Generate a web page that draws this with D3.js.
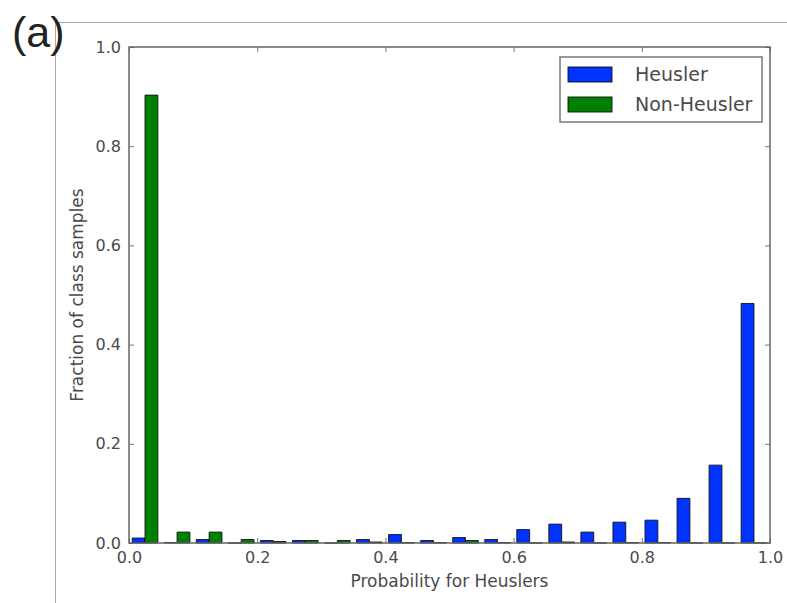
<!DOCTYPE html>
<html>
<head>
<meta charset="utf-8">
<title>Heusler probability histogram</title>
<script src="https://cdn.jsdelivr.net/npm/d3@7"></script>
<style>
  body { margin:0; background:#fff; }
  svg { display:block; }
</style>
</head>
<body>
<script>
// bins of width 0.05 on the probability axis
var binStarts  = [0.00,0.05,0.10,0.15,0.20,0.25,0.30,0.35,0.40,0.45,0.50,0.55,0.60,0.65,0.70,0.75,0.80,0.85,0.90,0.95];
var binWidth   = 0.05;
var heusler    = [0.010,0.001,0.007,0.000,0.005,0.005,0.000,0.007,0.017,0.005,0.011,0.007,0.027,0.038,0.022,0.042,0.046,0.090,0.157,0.483];
var nonHeusler = [0.903,0.022,0.022,0.007,0.003,0.005,0.005,0.002,0.001,0.001,0.005,0.001,0.000,0.002,0.000,0.001,0.001,0.000,0.000,0.000];
var tickValues = [0.0,0.2,0.4,0.6,0.8,1.0];
var seriesNames = ["Heusler","Non-Heusler"];

var W = 787, H = 603;
var m = {left:129, right:770, top:47, bottom:543};
var fontAxis = "'DejaVu Sans', sans-serif";

var svg = d3.select("body").append("svg")
    .attr("width", W).attr("height", H);

// page frame lines and panel letter
svg.append("line").attr("x1",55).attr("x2",W).attr("y1",22.5).attr("y2",22.5)
    .attr("stroke","#aaa").attr("stroke-width",1);
svg.append("line").attr("x1",55.5).attr("x2",55.5).attr("y1",22).attr("y2",H)
    .attr("stroke","#aaa").attr("stroke-width",1);
svg.append("text").attr("x",12).attr("y",47)
    .attr("font-family","'Liberation Sans', Arial, sans-serif")
    .attr("font-size",43).attr("fill","#222").text("(a)");

var x = d3.scaleLinear().domain([0,1]).range([m.left, m.right]);
var y = d3.scaleLinear().domain([0,1]).range([m.bottom, m.top]);

var color = d3.scaleOrdinal().domain(seriesNames).range(["#0033ff","#008000"]);

// histogram bars: two datasets side by side, rwidth 0.8
var bars = [];
binStarts.forEach(function(b, i) {
  bars.push({name:"Heusler", x0:b+0.1*binWidth, x1:b+0.5*binWidth, v:heusler[i]});
  bars.push({name:"Non-Heusler", x0:b+0.5*binWidth, x1:b+0.9*binWidth, v:nonHeusler[i]});
});

svg.append("g").selectAll("path")
  .data(bars)
  .enter().append("path")
    .attr("d", function(d) {
      var a = x(d.x0), b = x(d.x1), y0 = y(0), y1 = y(d.v);
      return "M" + a + "," + y0 + "V" + y1 + "H" + b + "V" + y0 + "Z";
    })
    .attr("fill", function(d) { return color(d.name); })
    .attr("stroke", "#111")
    .attr("stroke-width", 0.9);

// axes with inward ticks on all four sides
var tl = 5;
var gx = svg.append("g").attr("transform","translate(0," + m.bottom + ")")
  .call(d3.axisBottom(x).tickValues(tickValues).tickFormat(d3.format(".1f"))
        .tickSizeInner(-tl).tickSizeOuter(0).tickPadding(9));
var gy = svg.append("g").attr("transform","translate(" + m.left + ",0)")
  .call(d3.axisLeft(y).tickValues(tickValues).tickFormat(d3.format(".1f"))
        .tickSizeInner(-tl).tickSizeOuter(0).tickPadding(8));
var gt = svg.append("g").attr("transform","translate(0," + m.top + ")")
  .call(d3.axisTop(x).tickValues(tickValues).tickFormat("").tickSizeInner(-tl).tickSizeOuter(0));
var gr = svg.append("g").attr("transform","translate(" + m.right + ",0)")
  .call(d3.axisRight(y).tickValues(tickValues).tickFormat("").tickSizeInner(-tl).tickSizeOuter(0));

[gx,gy,gt,gr].forEach(function(g) {
  g.select(".domain").remove();
  g.selectAll(".tick line").attr("stroke","#777").attr("stroke-width",1);
  g.selectAll("text").attr("font-family",fontAxis).attr("font-size",16).attr("fill","#4a4a4a");
});
gx.selectAll("text").attr("dy","0.71em");

// plot frame
svg.append("rect")
  .attr("x", m.left).attr("y", m.top)
  .attr("width", m.right - m.left).attr("height", m.bottom - m.top)
  .attr("fill","none").attr("stroke","#666").attr("stroke-width",1.5);

// axis titles
svg.append("text")
  .attr("x", (m.left + m.right)/2).attr("y", 587)
  .attr("text-anchor","middle")
  .attr("font-family",fontAxis).attr("font-size",17).attr("fill","#4a4a4a")
  .text("Probability for Heuslers");
svg.append("text")
  .attr("transform","translate(83," + ((m.top + m.bottom)/2) + ") rotate(-90)")
  .attr("text-anchor","middle")
  .attr("font-family",fontAxis).attr("font-size",17).attr("fill","#4a4a4a")
  .text("Fraction of class samples");

// legend
var lg = svg.append("g").attr("transform","translate(560,57)");
lg.append("rect").attr("width",202).attr("height",65)
  .attr("fill","#fff").attr("stroke","#777").attr("stroke-width",1.5);
var item = lg.selectAll(".item").data(seriesNames).enter().append("g")
  .attr("transform", function(d,i) { return "translate(8," + (10 + i*30) + ")"; });
item.append("rect").attr("width",44).attr("height",15)
  .attr("fill", function(d) { return color(d); })
  .attr("stroke","#111").attr("stroke-width",0.9);
item.append("text").attr("x",67).attr("y",7.5).attr("dy","0.35em")
  .attr("font-family",fontAxis).attr("font-size",19).attr("fill","#4a4a4a")
  .text(function(d) { return d; });
</script>
</body>
</html>
